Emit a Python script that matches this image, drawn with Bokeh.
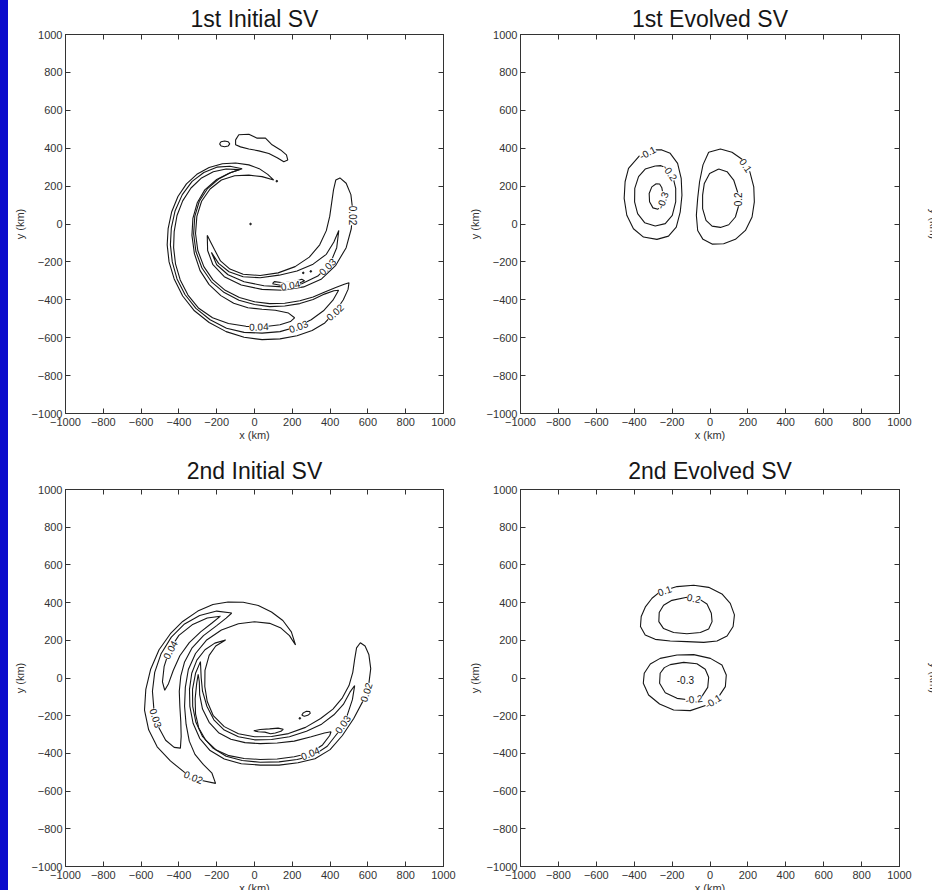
from bokeh.plotting import figure
from bokeh.layouts import row, column
from bokeh.models import FixedTicker, LinearAxis, ColumnDataSource, Spacer
from bokeh.embed import file_html
from bokeh.resources import INLINE
from bokeh.core.properties import value

FONT = "Liberation Sans"
INK = "#161616"
AXIS_INK = "#333333"
STRIP = "#0b0bcc"

# ---------------- shared axis data ----------------
TITLES = ["1st Initial SV", "1st Evolved SV", "2nd Initial SV", "2nd Evolved SV"]
TICKS = [-1000, -800, -600, -400, -200, 0, 200, 400, 600, 800, 1000]
TICK_LABELS = ["\u22121000", "\u2212800", "\u2212600", "\u2212400", "\u2212200",
               "0", "200", "400", "600", "800", "1000"]
X_LABEL = "x (km)"
Y_LABEL = "y (km)"

# ---------------- Panel 1: 1st Initial SV (km) ----------------
p1_oval = [(-185, 423), (-177, 434), (-158, 438), (-139, 434), (-131, 423), (-139, 412), (-158, 408), (-177, 412)]
p1_blob = [(-100, 444), (-83, 471), (-30, 474), (14, 453), (58, 453), (93, 418), (138, 391), (169, 365),
           (176, 338), (155, 329), (120, 350), (76, 372), (23, 386), (-30, 396), (-74, 407), (-100, 418)]
p1_arm1_002 = [(102, 232), (70, 262), (25, 292), (-30, 312), (-100, 322), (-170, 318), (-240, 298), (-305, 262),
               (-360, 212), (-405, 145), (-438, 65), (-457, -25), (-462, -110), (-452, -200), (-425, -290),
               (-380, -380), (-318, -458), (-240, -520), (-150, -568), (-55, -598), (40, -610), (135, -606),
               (225, -590), (305, -562), (372, -522), (428, -462), (470, -400), (495, -345), (500, -310),
               (475, -318), (430, -335), (375, -358), (310, -385), (240, -405), (160, -418), (80, -420),
               (0, -410), (-80, -388), (-155, -350), (-220, -295), (-268, -225), (-300, -140), (-312, -50),
               (-305, 40), (-280, 120), (-235, 185), (-175, 232), (-105, 255), (-30, 258), (40, 250)]
p1_arm1_003 = [(-65, 292), (-130, 305), (-200, 300), (-268, 272), (-330, 225), (-382, 155), (-420, 70),
               (-440, -20), (-445, -110), (-435, -200), (-410, -290), (-368, -372), (-310, -445), (-235, -505),
               (-148, -550), (-55, -572), (40, -576), (135, -568), (225, -542), (300, -505), (365, -458),
               (415, -402), (445, -350), (420, -352), (370, -370), (310, -398), (240, -420), (160, -433),
               (80, -436), (0, -425), (-82, -402), (-160, -362), (-228, -305), (-278, -232), (-310, -145),
               (-322, -52), (-316, 40), (-292, 120), (-250, 185), (-190, 237), (-125, 272)]
p1_arm1_004 = [(-80, 287), (-150, 290), (-218, 276), (-280, 243), (-336, 190), (-380, 122), (-410, 45),
               (-425, -40), (-428, -125), (-418, -210), (-393, -295), (-352, -375), (-295, -445), (-222, -495),
               (-138, -525), (-45, -540), (50, -542), (135, -532), (190, -515), (212, -495), (180, -470),
               (110, -455), (40, -450), (-35, -442), (-110, -418), (-178, -378), (-240, -320), (-288, -246),
               (-318, -156), (-331, -60), (-326, 30), (-303, 112), (-263, 180), (-200, 235), (-135, 268)]
p1_arm2_002 = [(-250, -60), (-248, -140), (-220, -215), (-160, -278), (-70, -322), (40, -345), (150, -350),
               (260, -332), (355, -290), (430, -218), (485, -125), (512, -25), (520, 70), (510, 155), (485, 215),
               (452, 243), (430, 232), (418, 180), (408, 110), (398, 40), (380, -35), (345, -110), (290, -175),
               (215, -225), (125, -258), (30, -272), (-60, -265), (-130, -238), (-180, -195), (-212, -135),
               (-235, -90)]
p1_arm2_003 = [(-228, -150), (-200, -215), (-140, -268), (-55, -305), (50, -326), (150, -332), (250, -315),
               (335, -275), (400, -210), (435, -125), (446, -34), (420, -95), (380, -160), (310, -212),
               (225, -248), (130, -270), (30, -284), (-60, -278), (-135, -252), (-190, -208)]
p1_arm2_004 = [(95, -315), (150, -326), (215, -322), (265, -300), (250, -292), (205, -305), (150, -310), (105, -304)]
P1_LOOPS = [p1_oval, p1_blob, p1_arm1_002, p1_arm1_003, p1_arm1_004, p1_arm2_002, p1_arm2_003, p1_arm2_004]
P1_DOTS_X = [-21, 118, 258, 298]
P1_DOTS_Y = [0, 226, -258, -250]
P1_LBL_TEXT = ["0.02", "0.03", "0.04", "0.04", "0.03", "0.02"]
P1_LBL_X = [519, 385, 190, 23, 232, 425]
P1_LBL_Y = [45, -225, -322, -541, -539, -465]
P1_LBL_ANGLE = [-90, 45, 10, 2, 20, 42]

# ---------------- Panel 2: 1st Evolved SV (km) ----------------
p2_neg_01 = [(-289, 391), (-368, 365), (-430, 294), (-448, 223), (-453, 135), (-439, 46), (-404, -25), (-351, -69),
             (-280, -81), (-219, -64), (-178, -16), (-157, 64), (-148, 152), (-152, 241), (-171, 320), (-210, 373),
             (-254, 391)]
p2_neg_02 = [(-289, 306), (-342, 290), (-377, 250), (-397, 188), (-398, 117), (-382, 55), (-345, 7), (-289, -11),
             (-236, 2), (-199, 46), (-181, 117), (-181, 188), (-196, 250), (-227, 294), (-259, 308)]
p2_neg_03 = [(-284, 212), (-307, 196), (-321, 161), (-319, 117), (-301, 85), (-275, 78), (-256, 103), (-247, 149),
             (-254, 191), (-266, 211)]
p2_pos_01 = [(-7, 379), (55, 396), (116, 379), (169, 342), (210, 276), (231, 196), (234, 117), (222, 37), (187, -34),
             (134, -81), (72, -104), (11, -106), (-37, -81), (-65, -34), (-72, 46), (-65, 135), (-55, 223), (-37, 312)]
p2_pos_02 = [(46, 290), (90, 276), (125, 232), (148, 161), (152, 99), (134, 37), (99, -4), (55, -18), (11, -11),
             (-21, 19), (-39, 81), (-39, 152), (-30, 214), (-2, 267)]
P2_LOOPS = [p2_neg_01, p2_neg_02, p2_neg_03, p2_pos_01, p2_pos_02]
P2_LBL_TEXT = ["-0.1", "-0.2", "-0.3", "0.1", "0.2"]
P2_LBL_X = [-330, -210, -252, 190, 150]
P2_LBL_Y = [378, 272, 125, 310, 130]
P2_LBL_ANGLE = [28, -55, 70, -55, 90]

# ---------------- Panel 3: 2nd Initial SV (km) ----------------
p3_armA_002 = [(217, 175), (195, 245), (150, 305), (90, 350), (20, 385), (-60, 402), (-140, 403), (-220, 390),
               (-300, 355), (-380, 300), (-445, 235), (-505, 150), (-550, 45), (-575, -60), (-582, -170),
               (-560, -275), (-515, -365), (-445, -440), (-365, -505), (-285, -542), (-206, -559), (-225, -505),
               (-270, -460), (-315, -405), (-345, -335), (-362, -245), (-370, -150), (-366, -50), (-350, 45),
               (-312, 130), (-255, 200), (-175, 255), (-85, 288), (0, 298), (80, 290), (140, 265), (185, 225)]
p3_armA_003 = [(-120, 345), (-200, 355), (-290, 332), (-370, 287), (-440, 217), (-495, 127), (-528, 30),
               (-540, -70), (-532, -170), (-508, -260), (-470, -330), (-425, -368), (-392, -372), (-388, -310),
               (-390, -230), (-395, -150), (-398, -70), (-390, 10), (-370, 85), (-330, 160), (-270, 225),
               (-200, 278), (-150, 318)]
p3_armA_004 = [(-180, 328), (-250, 318), (-330, 282), (-400, 226), (-450, 150), (-478, 62), (-487, -20), (-475, -65),
               (-455, -30), (-430, 40), (-395, 118), (-345, 188), (-285, 245), (-225, 292)]
p3_armB_002 = [(-153, 202), (-210, 185), (-262, 150), (-305, 95), (-332, 25), (-344, -60), (-342, -150), (-325, -240),
               (-290, -320), (-235, -385), (-160, -430), (-70, -455), (30, -462), (130, -462), (230, -450),
               (320, -428), (400, -380), (465, -305), (525, -215), (575, -120), (605, -30), (615, 50), (605, 125),
               (585, 170), (560, 187), (540, 160), (530, 100), (520, 30), (500, -40), (465, -105), (415, -165),
               (350, -215), (270, -262), (180, -295), (90, -310), (0, -312), (-85, -296), (-160, -258),
               (-218, -200), (-250, -125), (-263, -45), (-262, 40), (-240, 120), (-205, 170)]
p3_armB_003 = [(-286, 87), (-312, 25), (-328, -60), (-327, -150), (-310, -235), (-275, -310), (-222, -370),
               (-150, -415), (-65, -438), (30, -447), (130, -445), (225, -432), (310, -412), (385, -362),
               (445, -285), (490, -200), (518, -115), (530, -40), (505, -75), (470, -140), (420, -195), (355, -245),
               (275, -283), (185, -312), (90, -326), (0, -328), (-85, -312), (-160, -276), (-215, -222),
               (-252, -150), (-275, -70), (-282, 0)]
p3_armB_004 = [(-298, 20), (-306, -30), (-314, -110), (-312, -190), (-295, -265), (-258, -330), (-205, -380),
               (-135, -412), (-55, -427), (30, -432), (120, -430), (210, -418), (295, -398), (360, -355),
               (398, -305), (405, -285), (370, -292), (300, -312), (210, -335), (120, -345), (30, -348), (-50, -343),
               (-125, -325), (-190, -290), (-240, -235), (-275, -165), (-290, -90), (-292, -20)]
p3_oval = [(250, -198), (258, -185), (275, -176), (292, -178), (295, -188), (282, -198), (264, -203)]
p3_sliver = [(-4, -280), (30, -273), (80, -270), (125, -266), (152, -272), (140, -283), (110, -292), (85, -296),
             (55, -287), (20, -285)]
P3_LOOPS = [p3_armA_002, p3_armA_003, p3_armA_004, p3_armB_002, p3_armB_003, p3_armB_004, p3_oval, p3_sliver]
P3_DOTS_X = [240]
P3_DOTS_Y = [-214]
P3_LBL_TEXT = ["0.04", "0.03", "0.02", "0.04", "0.03", "0.02"]
P3_LBL_X = [-447, -521, -322, 295, 466, 590]
P3_LBL_Y = [150, -212, -525, -398, -245, -75]
P3_LBL_ANGLE = [62, -72, -22, 22, 55, 72]

# ---------------- Panel 4: 2nd Evolved SV (km) ----------------
p4_pos_01 = [(-263, 458), (-174, 485), (-86, 492), (-7, 481), (63, 446), (107, 396), (129, 335), (122, 273),
             (90, 223), (37, 196), (-33, 189), (-122, 193), (-210, 196), (-289, 205), (-342, 228), (-367, 273),
             (-363, 326), (-340, 379), (-306, 423)]
p4_pos_02 = [(-122, 428), (-60, 421), (-16, 393), (7, 343), (11, 299), (-7, 260), (-51, 241), (-122, 235),
             (-192, 241), (-245, 262), (-270, 299), (-268, 347), (-245, 386), (-201, 412)]
p4_neg_01 = [(-263, 104), (-174, 122), (-86, 124), (2, 104), (63, 69), (86, 16), (81, -46), (46, -99), (-16, -143),
             (-104, -173), (-192, -170), (-266, -138), (-324, -90), (-352, -28), (-347, 25), (-315, 74)]
p4_neg_02 = [(-210, 71), (-139, 83), (-69, 76), (-25, 46), (-7, 4), (-12, -50), (-42, -96), (-104, -117),
             (-174, -108), (-236, -78), (-266, -28), (-263, 25), (-241, 55)]
P4_LOOPS = [p4_pos_01, p4_pos_02, p4_neg_01, p4_neg_02]
P4_LBL_TEXT = ["0.1", "0.2", "-0.3", "-0.2", "-0.1"]
P4_LBL_X = [-240, -85, -130, -85, 15]
P4_LBL_Y = [465, 424, -11, -111, -122]
P4_LBL_ANGLE = [20, -12, 0, 8, 32]


def make_panel(title, loops, lbl_text, lbl_x, lbl_y, lbl_angle, dots_x, dots_y,
               fw, fh, left, right, top, bottom, title_standoff, cut_label):
    p = figure(frame_width=fw, frame_height=fh, x_range=(-1000, 1000), y_range=(-1000, 1000),
               output_backend="svg", toolbar_location=None,
               min_border_left=left, min_border_right=right,
               min_border_top=top, min_border_bottom=bottom,
               background_fill_color="white", border_fill_color="white",
               outline_line_color=AXIS_INK, outline_line_width=1)
    p.grid.visible = False
    p.title.text = title
    p.title.align = "center"
    p.title.text_font = FONT
    p.title.text_font_size = "23px"
    p.title.text_font_style = "normal"
    p.title.text_color = INK
    p.title.standoff = title_standoff

    xax = p.below[0]
    yax = p.left[0]
    top_ax = LinearAxis()
    right_ax = LinearAxis()
    p.add_layout(top_ax, "above")
    p.add_layout(right_ax, "right")
    overrides = {t: lab for t, lab in zip(TICKS, TICK_LABELS)}
    for ax in (xax, yax, top_ax, right_ax):
        ax.ticker = FixedTicker(ticks=TICKS)
        ax.major_tick_in = 5
        ax.major_tick_out = 0
        ax.minor_tick_line_color = None
        ax.axis_line_color = AXIS_INK
        ax.major_tick_line_color = AXIS_INK
    for ax in (xax, yax):
        ax.major_label_overrides = overrides
        ax.major_label_text_font = FONT
        ax.major_label_text_font_size = "11px"
        ax.major_label_text_color = AXIS_INK
        ax.axis_label_text_font = FONT
        ax.axis_label_text_font_size = "11px"
        ax.axis_label_text_font_style = "normal"
        ax.axis_label_text_color = AXIS_INK
    xax.axis_label = X_LABEL
    yax.axis_label = Y_LABEL
    xax.major_label_standoff = 4
    xax.axis_label_standoff = 0
    yax.major_label_standoff = 3
    yax.axis_label_standoff = 3
    for ax in (top_ax, right_ax):
        ax.major_label_text_font_size = "0px"
        ax.major_label_text_color = None
        ax.major_label_standoff = 0
        ax.minor_tick_out = 0
        ax.minor_tick_in = 0
    if cut_label:
        # y-axis label of the neighbouring (cropped) panel, visible only at the window edge
        right_ax.axis_label = Y_LABEL
        right_ax.axis_label_text_font = FONT
        right_ax.axis_label_text_font_size = "11px"
        right_ax.axis_label_text_font_style = "normal"
        right_ax.axis_label_text_color = AXIS_INK
        right_ax.axis_label_standoff = 28

    xs = [[pt[0] for pt in loop] + [loop[0][0]] for loop in loops]
    ys = [[pt[1] for pt in loop] + [loop[0][1]] for loop in loops]
    p.multi_line(xs, ys, line_color=INK, line_width=1.1)

    if dots_x:
        p.scatter(dots_x, dots_y, size=1.6, color=INK)

    src = ColumnDataSource(dict(x=lbl_x, y=lbl_y, text=lbl_text, angle=lbl_angle))
    p.text(x="x", y="y", text="text", angle="angle", angle_units="deg", source=src,
           text_font=value(FONT), text_font_size=value("10px"), text_color=INK,
           text_align="center", text_baseline="middle",
           background_fill_color="white")
    return p


p1 = make_panel(TITLES[0], P1_LOOPS, P1_LBL_TEXT, P1_LBL_X, P1_LBL_Y, P1_LBL_ANGLE, P1_DOTS_X, P1_DOTS_Y,
                fw=378, fh=379, left=57, right=20, top=34, bottom=31, title_standoff=5, cut_label=False)
p2 = make_panel(TITLES[1], P2_LOOPS, P2_LBL_TEXT, P2_LBL_X, P2_LBL_Y, P2_LBL_ANGLE, [], [],
                fw=379, fh=379, left=57, right=33, top=34, bottom=31, title_standoff=5, cut_label=True)
p3 = make_panel(TITLES[2], P3_LOOPS, P3_LBL_TEXT, P3_LBL_X, P3_LBL_Y, P3_LBL_ANGLE, P3_DOTS_X, P3_DOTS_Y,
                fw=378, fh=377, left=57, right=20, top=45, bottom=16, title_standoff=11, cut_label=False)
p4 = make_panel(TITLES[3], P4_LOOPS, P4_LBL_TEXT, P4_LBL_X, P4_LBL_Y, P4_LBL_ANGLE, [], [],
                fw=379, fh=377, left=57, right=33, top=45, bottom=16, title_standoff=11, cut_label=True)

strip_top = Spacer(width=8, height=444, styles={"background-color": STRIP})
strip_bottom = Spacer(width=8, height=460, styles={"background-color": STRIP})

layout = column(row(strip_top, p1, p2), row(strip_bottom, p3, p4))

open("out.html", "w").write(file_html(layout, INLINE))
